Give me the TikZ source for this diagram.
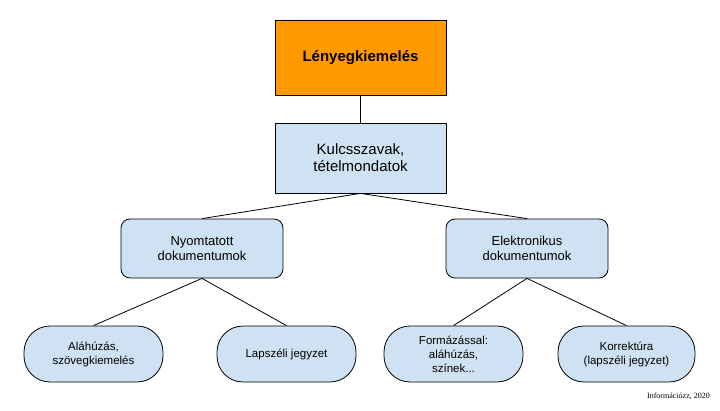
\documentclass[tikz,border=0pt]{standalone}
\usepackage{fontspec}
\setmainfont{Liberation Sans}
\newfontfamily\footfont{Liberation Serif}
\definecolor{orng}{HTML}{FF9900}
\definecolor{lblue}{HTML}{CFE2F3}
\begin{document}
\begin{tikzpicture}[x=1pt,y=-1pt,
  box/.style={draw=black,line width=0.8pt,align=center,font=\fontsize{15}{17}\selectfont,inner sep=0pt},
  mid/.style={draw=black,line width=0.8pt,fill=lblue,rounded corners=9pt,align=center,font=\fontsize{13}{15}\selectfont,inner sep=0pt},
  leaf/.style={draw=black,line width=0.8pt,fill=lblue,rounded corners=26pt,align=center,font=\fontsize{11.5}{14}\selectfont,inner sep=0pt},
  conn/.style={line width=0.8pt}]
\useasboundingbox (0,0) rectangle (720,410);
\node[box,fill=orng,minimum width=171pt,minimum height=75pt,font=\fontsize{15}{17}\selectfont\bfseries] (top) at (360.5,57.5) {Lényegkiemelés};
\node[box,fill=lblue,minimum width=171pt,minimum height=70pt] (kulcs) at (360.5,158) {Kulcsszavak,\\tételmondatok};
\node[mid,minimum width=162pt,minimum height=59pt] (nyom) at (202,248.5) {Nyomtatott\\dokumentumok};
\node[mid,minimum width=162pt,minimum height=59pt] (elek) at (527,248.5) {Elektronikus\\dokumentumok};
\node[leaf,minimum width=139pt,minimum height=56pt] (ala) at (93.5,354) {Aláhúzás,\\szövegkiemelés};
\node[leaf,minimum width=139pt,minimum height=56pt] (lap) at (286.5,354) {Lapszéli jegyzet};
\node[leaf,minimum width=139pt,minimum height=56pt] (form) at (453.5,354) {Formázással:\\aláhúzás,\\színek...};
\node[leaf,minimum width=137pt,minimum height=56pt] (kor) at (626.5,354) {Korrektúra\\(lapszéli jegyzet)};
\draw[conn] (top.south) -- (kulcs.north);
\draw[conn] (kulcs.south) -- (nyom.north);
\draw[conn] (kulcs.south) -- (elek.north);
\draw[conn] (nyom.south) -- (ala.north);
\draw[conn] (nyom.south) -- (lap.north);
\draw[conn] (elek.south) -- (form.north);
\draw[conn] (elek.south) -- (kor.north);
\node[anchor=east,font=\footfont\fontsize{8}{9}\selectfont,inner sep=0pt] (foot) at (710,396) {Információzz, 2020};
\end{tikzpicture}
\end{document}
